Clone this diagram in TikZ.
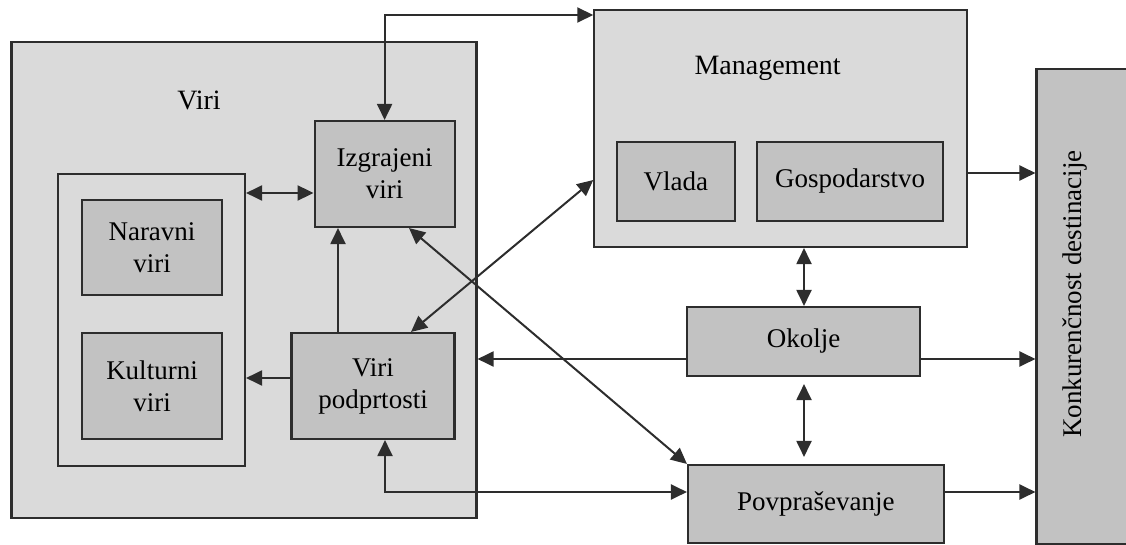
\documentclass[tikz,border=0pt]{standalone}
\usepackage{fontspec}
\setmainfont{Liberation Serif}
\usetikzlibrary{arrows.meta,positioning}
\definecolor{panelgray}{RGB}{218,218,218}
\definecolor{boxgray}  {RGB}{194,194,194}
\definecolor{edgegray} {RGB}{45,45,45}

\begin{document}
\begin{tikzpicture}[
    x=1pt, y=-1pt,
    panel/.style={draw=edgegray, fill=panelgray, line width=2.1pt, rectangle, inner sep=0pt},
    block/.style={panel, fill=boxgray, align=center, font=\fontsize{27}{32}\selectfont},
    caption/.style={font=\fontsize{28}{34}\selectfont},
    oneway/.style={-{Triangle[length=16pt,width=15pt]}, draw=edgegray, line width=2pt},
    twoway/.style={{Triangle[length=16pt,width=15pt]}-{Triangle[length=16pt,width=15pt]}, draw=edgegray, line width=2pt}
]
    \useasboundingbox (0,0) rectangle (1126,545);

    \node[panel, minimum width=465pt, minimum height=476pt] (viri) at (244,280) {};
    \node[caption] (virilabel) at (199,100) {Viri};
    \node[panel, minimum width=187pt, minimum height=292pt] (inner) at (151.5,320) {};
    \node[block, minimum width=140pt, minimum height=95pt] (naravni) at (152,247.5) {Naravni\\viri};
    \node[block, minimum width=140pt, minimum height=106pt] (kulturni) at (152,386) {Kulturni\\viri};
    \node[block, minimum width=140pt, minimum height=106pt] (izgr) at (384.6,174) {Izgrajeni\\viri};
    \node[block, minimum width=163pt, minimum height=106pt] (podpr) at (373,386) {Viri\\podprtosti};

    \node[panel, minimum width=372.6pt, minimum height=237pt] (mgmt) at (780.6,128.5) {};
    \node[caption] (mgmtlabel) at (767.6,68) {Management};
    \node[block, minimum width=118.4pt, minimum height=79pt] (vlada) at (675.9,181.2) {Vlada};
    \node[block, minimum width=186.6pt, minimum height=79pt] (gosp) at (850.1,181.2) {Gospodarstvo};

    \node[block, minimum width=233pt, minimum height=69pt] (okolje) at (803.5,341.5) {Okolje};
    \node[block, minimum width=255.8pt, minimum height=78pt] (povp) at (815.9,504) {Povpraševanje};
    \node[block, minimum width=103.5pt, minimum height=475pt] (konk) at (1088.25,306.5) {};
    \node[rotate=90, font=\fontsize{27}{32}\selectfont] (konklabel) at (1075,294) {Konkurenčnost destinacije};

    \draw[twoway] (izgr.north) |- (mgmt.west |- 0,15);
    \draw[twoway] (inner.east |- 0,193) -- (izgr.west |- 0,193);
    \draw[oneway] (podpr.north -| 338,0) -- (izgr.south -| 338,0);
    \draw[oneway] (podpr.west |- 0,378) -- (inner.east |- 0,378);
    \draw[twoway] (podpr.north -| 411,0) -- (mgmt.west |- 0,180);
    \draw[twoway] (izgr.south -| 409,0) -- (povp.north west);
    \draw[oneway] (okolje.west |- 0,359) -- (viri.east |- 0,359);
    \draw[twoway] (povp.west |- 0,492) -| (podpr.south -| 385,0);
    \draw[twoway] (mgmt.south -| 804,0) -- (okolje.north -| 804,0);
    \draw[twoway, shorten <=7pt, shorten >=7pt] (okolje.south -| 804,0) -- (povp.north -| 804,0);
    \draw[oneway] (mgmt.east |- 0,173) -- (konk.west |- 0,173);
    \draw[oneway] (okolje.east |- 0,359) -- (konk.west |- 0,359);
    \draw[oneway] (povp.east |- 0,492) -- (konk.west |- 0,492);
\end{tikzpicture}
\end{document}
